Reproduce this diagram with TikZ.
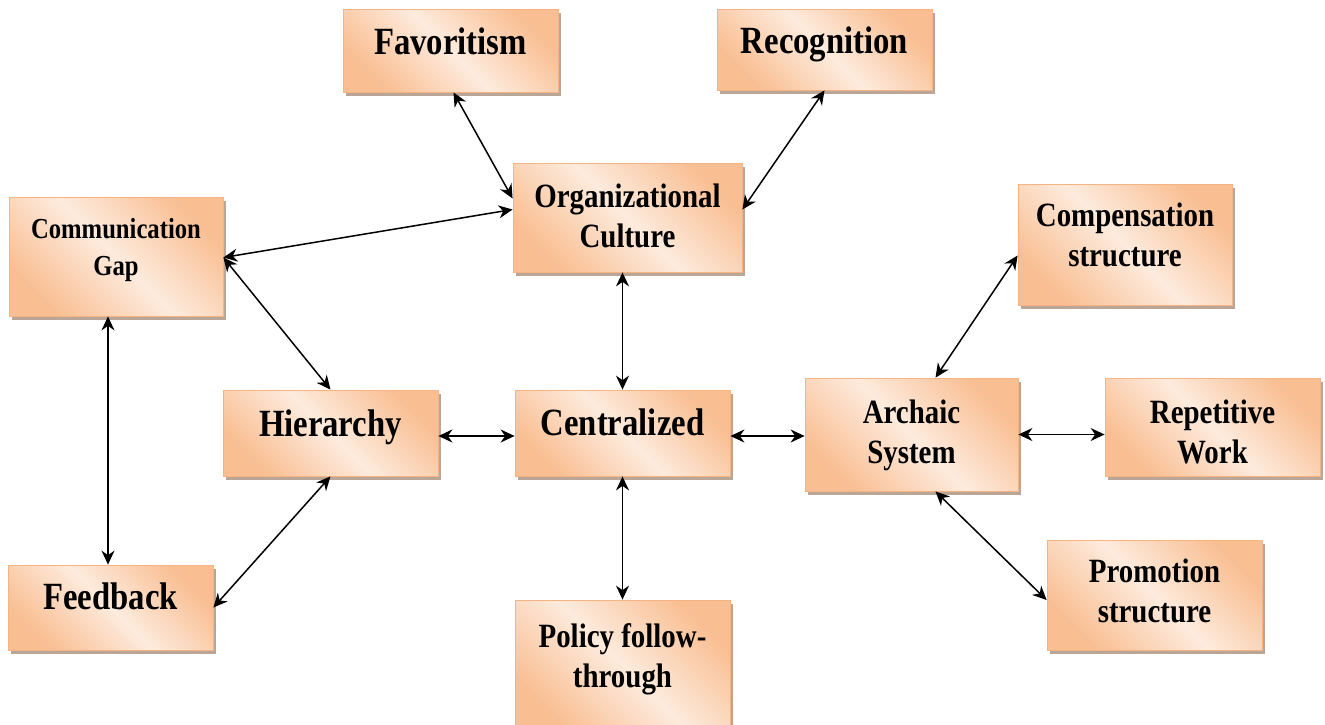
\documentclass[tikz,border=0pt]{standalone}
\usepackage{fontspec}
\setmainfont{Liberation Serif}[FakeStretch=0.85]
\usetikzlibrary{arrows.meta,shadows}
\definecolor{boxorange}{RGB}{249,190,146}
\definecolor{boxlight}{RGB}{253,235,221}
\definecolor{boxedge}{RGB}{246,180,132}
\definecolor{boxshadow}{RGB}{185,166,150}
% centred lines of text, raised by #1 without changing the box size
\newcommand\liftedlines[2]{\raisebox{#1}[\height][\depth]{\begin{tabular}{@{}c@{}}#2\end{tabular}}}
\tikzset{
  factor/.style={rectangle, draw=boxedge, line width=0.8pt,
    shading=axis, top color=boxorange, bottom color=boxorange,
    middle color=boxlight, shading angle=-45,
    drop shadow={shadow xshift=3pt, shadow yshift=-4pt, fill=boxshadow, opacity=1},
    align=center, inner sep=0pt, font=\bfseries},
  bigtext/.style={font=\bfseries\fontsize{38.5}{40}\selectfont},
  smalltext/.style={font=\bfseries\fontsize{34}{40}\selectfont},
  tinytext/.style={font=\bfseries\fontsize{29}{37}\selectfont},
  link/.style={{Stealth[length=14pt,width=13pt]}-{Stealth[length=14pt,width=13pt]},
    line width=1.5pt, black}
}
\begin{document}
\begin{tikzpicture}[x=1pt,y=-1pt]
\useasboundingbox (0,0) rectangle (1325,724);

% factor boxes
\node[factor, bigtext, minimum width=215pt, minimum height=83pt] (fav) at (450.5,50.5) {\liftedlines{4pt}{Favoritism}};
\node[factor, bigtext, minimum width=215pt, minimum height=81pt] (rec) at (824.5,49.5) {\liftedlines{4pt}{Recognition}};
\node[factor, smalltext, minimum width=229pt, minimum height=109pt] (org) at (627.5,217.5) {\liftedlines{-2pt}{Organizational\\Culture}};
\node[factor, tinytext, minimum width=214pt, minimum height=119pt] (com) at (116,256.5) {\liftedlines{7pt}{Communication\\Gap}};
\node[factor, smalltext, minimum width=214pt, minimum height=121pt] (cmp) at (1125,244.5) {\liftedlines{6pt}{Compensation\\structure}};
\node[factor, bigtext, minimum width=215pt, minimum height=86pt] (hie) at (330.5,433) {\liftedlines{5pt}{Hierarchy}};
\node[factor, bigtext, minimum width=215pt, minimum height=86pt] (cen) at (622.5,433) {\liftedlines{6pt}{Centralized}};
\node[factor, smalltext, minimum width=213pt, minimum height=113pt] (arc) at (911.5,434.5) {\liftedlines{-1pt}{Archaic\\System}};
\node[factor, smalltext, minimum width=215pt, minimum height=98pt] (rep) at (1212.5,427) {\liftedlines{-8pt}{Repetitive\\Work}};
\node[factor, smalltext, minimum width=215pt, minimum height=110pt] (prm) at (1154.5,595) {\liftedlines{1pt}{Promotion\\structure}};
\node[factor, bigtext, minimum width=205pt, minimum height=85pt] (fdb) at (110.5,607.5) {\liftedlines{6pt}{Feedback}};
\node[factor, smalltext, minimum width=215pt, minimum height=130pt] (pol) at (622.5,665) {\liftedlines{6pt}{Policy follow-\\through}};

% two-way links
\draw[link] ([xshift=3pt]fav.south) -- ([yshift=19pt]org.west);
\draw[link] (rec.south) -- ([yshift=8pt]org.east);
\draw[link] ([yshift=-1pt]com.east) -- ([yshift=8pt]org.west);
\draw[link] ([yshift=-1pt]com.east) -- (hie.north);
\draw[link] ([xshift=-8pt]com.south) -- ([xshift=-2.5pt]fdb.north);
\draw[link] (hie.south) -- (fdb.east);
\draw[link] ([yshift=-3pt]hie.east) -- ([yshift=-3pt]cen.west);
\draw[link] ([xshift=-5pt]org.south) -- (cen.north);
\draw[link] ([yshift=-3pt]cen.east) -- ([yshift=-1.5pt]arc.west);
\draw[link] (cen.south) -- (pol.north);
\draw[link] ([xshift=24pt]arc.north) -- ([yshift=-11pt]cmp.west);
\draw[link] (arc.east) -- (rep.west |- arc.east);
\draw[link] ([xshift=24pt]arc.south) -- ([yshift=-5pt]prm.west);
\end{tikzpicture}
\end{document}
